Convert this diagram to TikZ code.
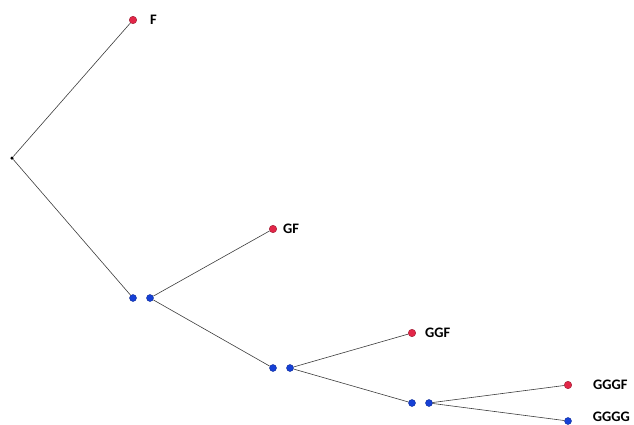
\documentclass[tikz,border=0pt]{standalone}
\usepackage{fontspec}
\setmainfont{Carlito}
\usetikzlibrary{positioning}
\definecolor{leafred}{RGB}{226,38,72}
\definecolor{stemblue}{RGB}{22,64,214}
\definecolor{edgegray}{RGB}{60,60,60}
\tikzstyle{leaf}=[circle,draw=leafred!70!black,fill=leafred,inner sep=0pt,minimum size=7.5pt,line width=0.4pt]
\tikzstyle{stem}=[circle,draw=stemblue!70!black,fill=stemblue,inner sep=0pt,minimum size=7pt,line width=0.4pt]
\tikzstyle{root}=[circle,fill=black,inner sep=0pt,minimum size=3.5pt]
\tikzstyle{word}=[font=\bfseries\fontsize{14.5}{16}\selectfont,inner sep=0pt,anchor=west]
\tikzstyle{branch}=[draw=edgegray,line width=0.6pt]

\begin{document}
\begin{tikzpicture}[x=1pt,y=-1pt]
  \useasboundingbox (0,0) rectangle (634,425);
  \node[root] (r) at (12,158) {};
  \node[leaf] (f) at (133,20) {};
  \node[stem] (a1) at (133,298) {};
  \node[stem] (a2) at (150,298) {};
  \node[leaf] (gf) at (273,229) {};
  \node[stem] (b1) at (273,368) {};
  \node[stem] (b2) at (290,368) {};
  \node[leaf] (ggf) at (412,333) {};
  \node[stem] (c1) at (412,403) {};
  \node[stem] (c2) at (429,403) {};
  \node[leaf] (gggf) at (568,385) {};
  \node[stem] (gggg) at (568,421) {};
  % labels
  \node[word, right=13pt of f.east] (lf) {F};
  \node[word, right=6pt of gf.east] (lgf) {GF};
  \node[word, right=9pt of ggf.east] (lggf) {GGF};
  \node[word, right=21pt of gggf.east] (lgggf) {GGGF};
  \node[word, right=21pt of gggg.east, yshift=4pt] (lgggg) {GGGG};
  % branches
  \draw[branch] (r) -- (f);
  \draw[branch] (r) -- (a1);
  \draw[branch] (a2) -- (gf);
  \draw[branch] (a2) -- (b1);
  \draw[branch] (b2) -- (ggf);
  \draw[branch] (b2) -- (c1);
  \draw[branch] (c2) -- (gggf);
  \draw[branch] (c2) -- (gggg);
\end{tikzpicture}
\end{document}
